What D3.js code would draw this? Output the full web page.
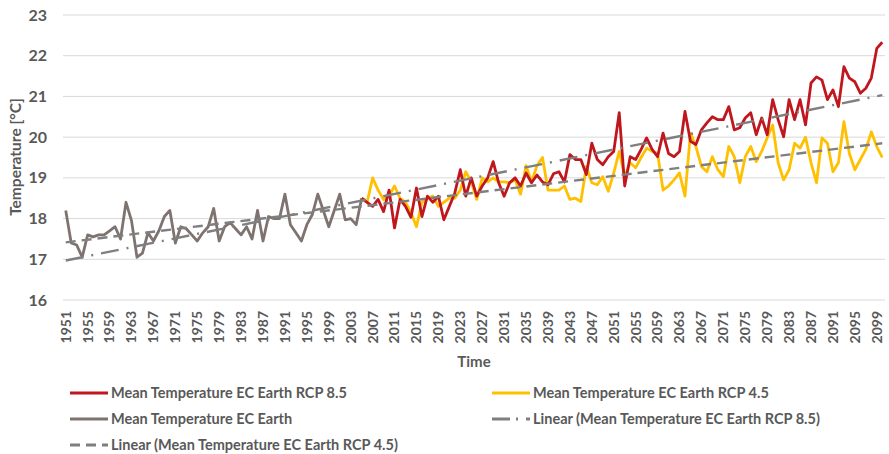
<!DOCTYPE html>
<html lang="en">
<head>
  <meta charset="UTF-8">
  <title>Mean Temperature EC Earth</title>
  <style>
    body { margin: 0; background: #fff; }
    text { font-family: Lato, "Open Sans", sans-serif; font-weight: bold; fill: #595959; }
  </style>
</head>
<body>
  <svg id="chart"></svg>
  <script src="https://cdn.jsdelivr.net/npm/d3@7"></script>
  <script>
    // yearly means
    let years = d3.range(1951, 2101)
    let yTicks = [16, 17, 18, 19, 20, 21, 22, 23]

    // 1951-2005
    let historical = [
      18.2, 17.4, 17.35, 17.05, 17.6, 17.55, 17.6, 17.6, 17.7, 17.8,
      17.5, 18.4, 17.95, 17.05, 17.15, 17.65, 17.45, 17.7, 18.05, 18.2,
      17.4, 17.8, 17.75, 17.6, 17.45, 17.65, 17.8, 18.25, 17.45, 17.8,
      17.9, 17.75, 17.6, 17.8, 17.5, 18.2, 17.45, 18.05, 18.0, 18.0,
      18.6, 17.85, 17.65, 17.45, 17.85, 18.1, 18.6, 18.2, 17.8, 18.2,
      18.6, 17.97, 18.0, 17.85, 18.5
    ]
    // 2006-2100
    let rcp85 = [
      18.4, 18.3, 18.47, 18.17, 18.7, 17.77, 18.47, 18.3, 18.03, 18.75,
      18.05, 18.55, 18.4, 18.55, 17.97, 18.3, 18.63, 19.2, 18.55, 19.0,
      18.55, 18.8, 19.0, 19.4, 18.88, 18.55, 18.88, 19.0, 18.8, 19.12,
      18.88, 19.07, 18.9, 18.83, 19.1, 19.15, 18.9, 19.57, 19.45, 19.45,
      19.08, 19.85, 19.45, 19.32, 19.52, 19.65, 20.6, 18.8, 19.52, 19.45,
      19.7, 19.98, 19.7, 19.52, 20.1, 19.6, 19.52, 19.65, 20.63, 19.9,
      19.82, 20.18, 20.35, 20.5, 20.43, 20.43, 20.75, 20.18, 20.23, 20.47,
      20.6, 20.06, 20.47, 20.06, 20.92, 20.43, 20.01, 20.92, 20.43, 20.92,
      20.3, 21.33, 21.48, 21.4, 20.92, 21.16, 20.75, 21.73, 21.45, 21.36,
      21.08, 21.2, 21.45, 22.18, 22.33
    ]
    let rcp45 = [
      18.4, 19.0, 18.7, 18.47, 18.55, 18.8, 18.5, 18.4, 18.15, 17.8,
      18.4, 18.5, 18.55, 18.3, 18.4, 18.5, 18.5, 18.7, 19.15, 18.9,
      18.47, 19.0, 18.9, 19.0, 18.9, 18.9, 18.88, 18.95, 18.6, 19.3,
      18.9, 19.3, 19.5, 18.7, 18.7, 18.7, 18.8, 18.47, 18.5, 18.42,
      19.28, 18.88, 18.83, 19.03, 18.67, 19.12, 19.65, 19.03, 19.37, 19.25,
      19.5, 19.73, 19.65, 19.6, 18.7, 18.8, 18.95, 19.12, 18.55, 20.1,
      19.77, 19.28, 19.15, 19.52, 19.2, 19.03, 19.77, 19.52, 18.88, 19.52,
      19.77, 19.4, 19.65, 19.98, 20.3, 19.37, 18.95, 19.2, 19.85, 19.73,
      20.0, 19.37, 18.88, 19.98, 19.85, 19.15, 19.37, 20.38, 19.6, 19.2,
      19.45, 19.7, 20.13, 19.77, 19.5
    ]

    let names = [
      'Mean Temperature EC Earth RCP 8.5',
      'Mean Temperature EC Earth RCP 4.5',
      'Mean Temperature EC Earth',
      'Linear (Mean Temperature EC Earth RCP 8.5)',
      'Linear (Mean Temperature EC Earth RCP 4.5)'
    ]

    let red = '#c0171f', gold = '#ffc000', brown = '#7f7370', trendGrey = '#7f7f7f'

    let svgWidth = 889, svgHeight = 454
    let svg = d3.select('#chart')
      .attr('width', svgWidth)
      .attr('height', svgHeight)

    let x = d3.scaleBand().domain(years).range([63, 885])
    let cx = yr => x(yr) + x.bandwidth() / 2
    let y = d3.scaleLinear().domain([16, 23]).range([300, 15])

    // gridlines + y labels
    svg.append('g').selectAll('line')
      .data(yTicks).enter().append('line')
      .attr('x1', 63).attr('x2', 885)
      .attr('y1', d => y(d)).attr('y2', d => y(d))
      .attr('stroke', '#d9d9d9').attr('stroke-width', 1)

    svg.append('g').selectAll('text')
      .data(yTicks).enter().append('text')
      .attr('x', 47).attr('y', d => y(d)).attr('dy', '0.35em')
      .attr('text-anchor', 'end')
      .style('font-size', '16px')
      .text(d => d)

    svg.append('text')
      .attr('transform', 'translate(21,157) rotate(-90)')
      .attr('text-anchor', 'middle')
      .style('font-size', '15.5px')
      .text('Temperature [°C]')

    // x axis, every 4th year
    let xAxis = d3.axisBottom(x)
      .tickValues(years.filter(d => (d - 1951) % 4 === 0))
      .tickSize(0)
    let gx = svg.append('g')
      .attr('transform', 'translate(0,300)')
      .call(xAxis)
    gx.select('.domain').remove()
    gx.selectAll('text')
      .attr('x', -11).attr('y', 0).attr('dy', '0.35em')
      .attr('transform', 'rotate(-90)')
      .style('text-anchor', 'end')
      .style('font-size', '14px')
      .style('font-family', 'Lato, sans-serif')
      .style('fill', '#595959')

    svg.append('text')
      .attr('x', 474).attr('y', 367)
      .attr('text-anchor', 'middle')
      .style('font-size', '15px')
      .text('Time')

    let hist = historical.map((v, i) => ({ year: 1951 + i, value: v }))
    let s85 = rcp85.map((v, i) => ({ year: 2006 + i, value: v }))
    let s45 = rcp45.map((v, i) => ({ year: 2006 + i, value: v }))
    let join = hist[hist.length - 1]

    let line = d3.line().x(d => cx(d.year)).y(d => y(d.value))

    // least squares fit over historical + scenario
    function fit(pts) {
      let mx = d3.mean(pts, d => d.year), my = d3.mean(pts, d => d.value)
      let b = d3.sum(pts, d => (d.year - mx) * (d.value - my)) / d3.sum(pts, d => (d.year - mx) ** 2)
      let a = my - b * mx
      return [1951, 2100].map(yr => ({ year: yr, value: a + b * yr }))
    }

    let plot = svg.append('g')
    plot.append('path').datum(hist)
      .attr('d', line).attr('fill', 'none')
      .attr('stroke', brown).attr('stroke-width', 2.8).attr('stroke-linejoin', 'round')
    plot.append('path').datum([join].concat(s45))
      .attr('d', line).attr('fill', 'none')
      .attr('stroke', gold).attr('stroke-width', 2.8).attr('stroke-linejoin', 'round')
    plot.append('path').datum([join].concat(s85))
      .attr('d', line).attr('fill', 'none')
      .attr('stroke', red).attr('stroke-width', 2.8).attr('stroke-linejoin', 'round')

    plot.append('path').datum(fit(hist.concat(s85)))
      .attr('d', line).attr('fill', 'none')
      .attr('stroke', trendGrey).attr('stroke-width', 2.4)
      .attr('stroke-dasharray', '18,8,2,8')
    plot.append('path').datum(fit(hist.concat(s45)))
      .attr('d', line).attr('fill', 'none')
      .attr('stroke', trendGrey).attr('stroke-width', 2.4)
      .attr('stroke-dasharray', '10,6')

    // legend
    let legend = [
      { name: names[0], x: 70, y: 393, color: red, dash: null },
      { name: names[1], x: 492, y: 393, color: gold, dash: null },
      { name: names[2], x: 70, y: 419, color: brown, dash: null },
      { name: names[3], x: 492, y: 419, color: trendGrey, dash: '18,6,2,8' },
      { name: names[4], x: 70, y: 445, color: trendGrey, dash: '10,6' }
    ]
    let lg = svg.append('g').selectAll('g')
      .data(legend).enter().append('g')
      .attr('transform', d => `translate(${d.x},${d.y})`)
    lg.append('line')
      .attr('x1', 0).attr('x2', 38)
      .attr('stroke', d => d.color).attr('stroke-width', 2.8)
      .attr('stroke-dasharray', d => d.dash)
    lg.append('text')
      .attr('x', 41).attr('dy', '0.35em')
      .style('font-size', '14.5px')
      .text(d => d.name)
  </script>
</body>
</html>
